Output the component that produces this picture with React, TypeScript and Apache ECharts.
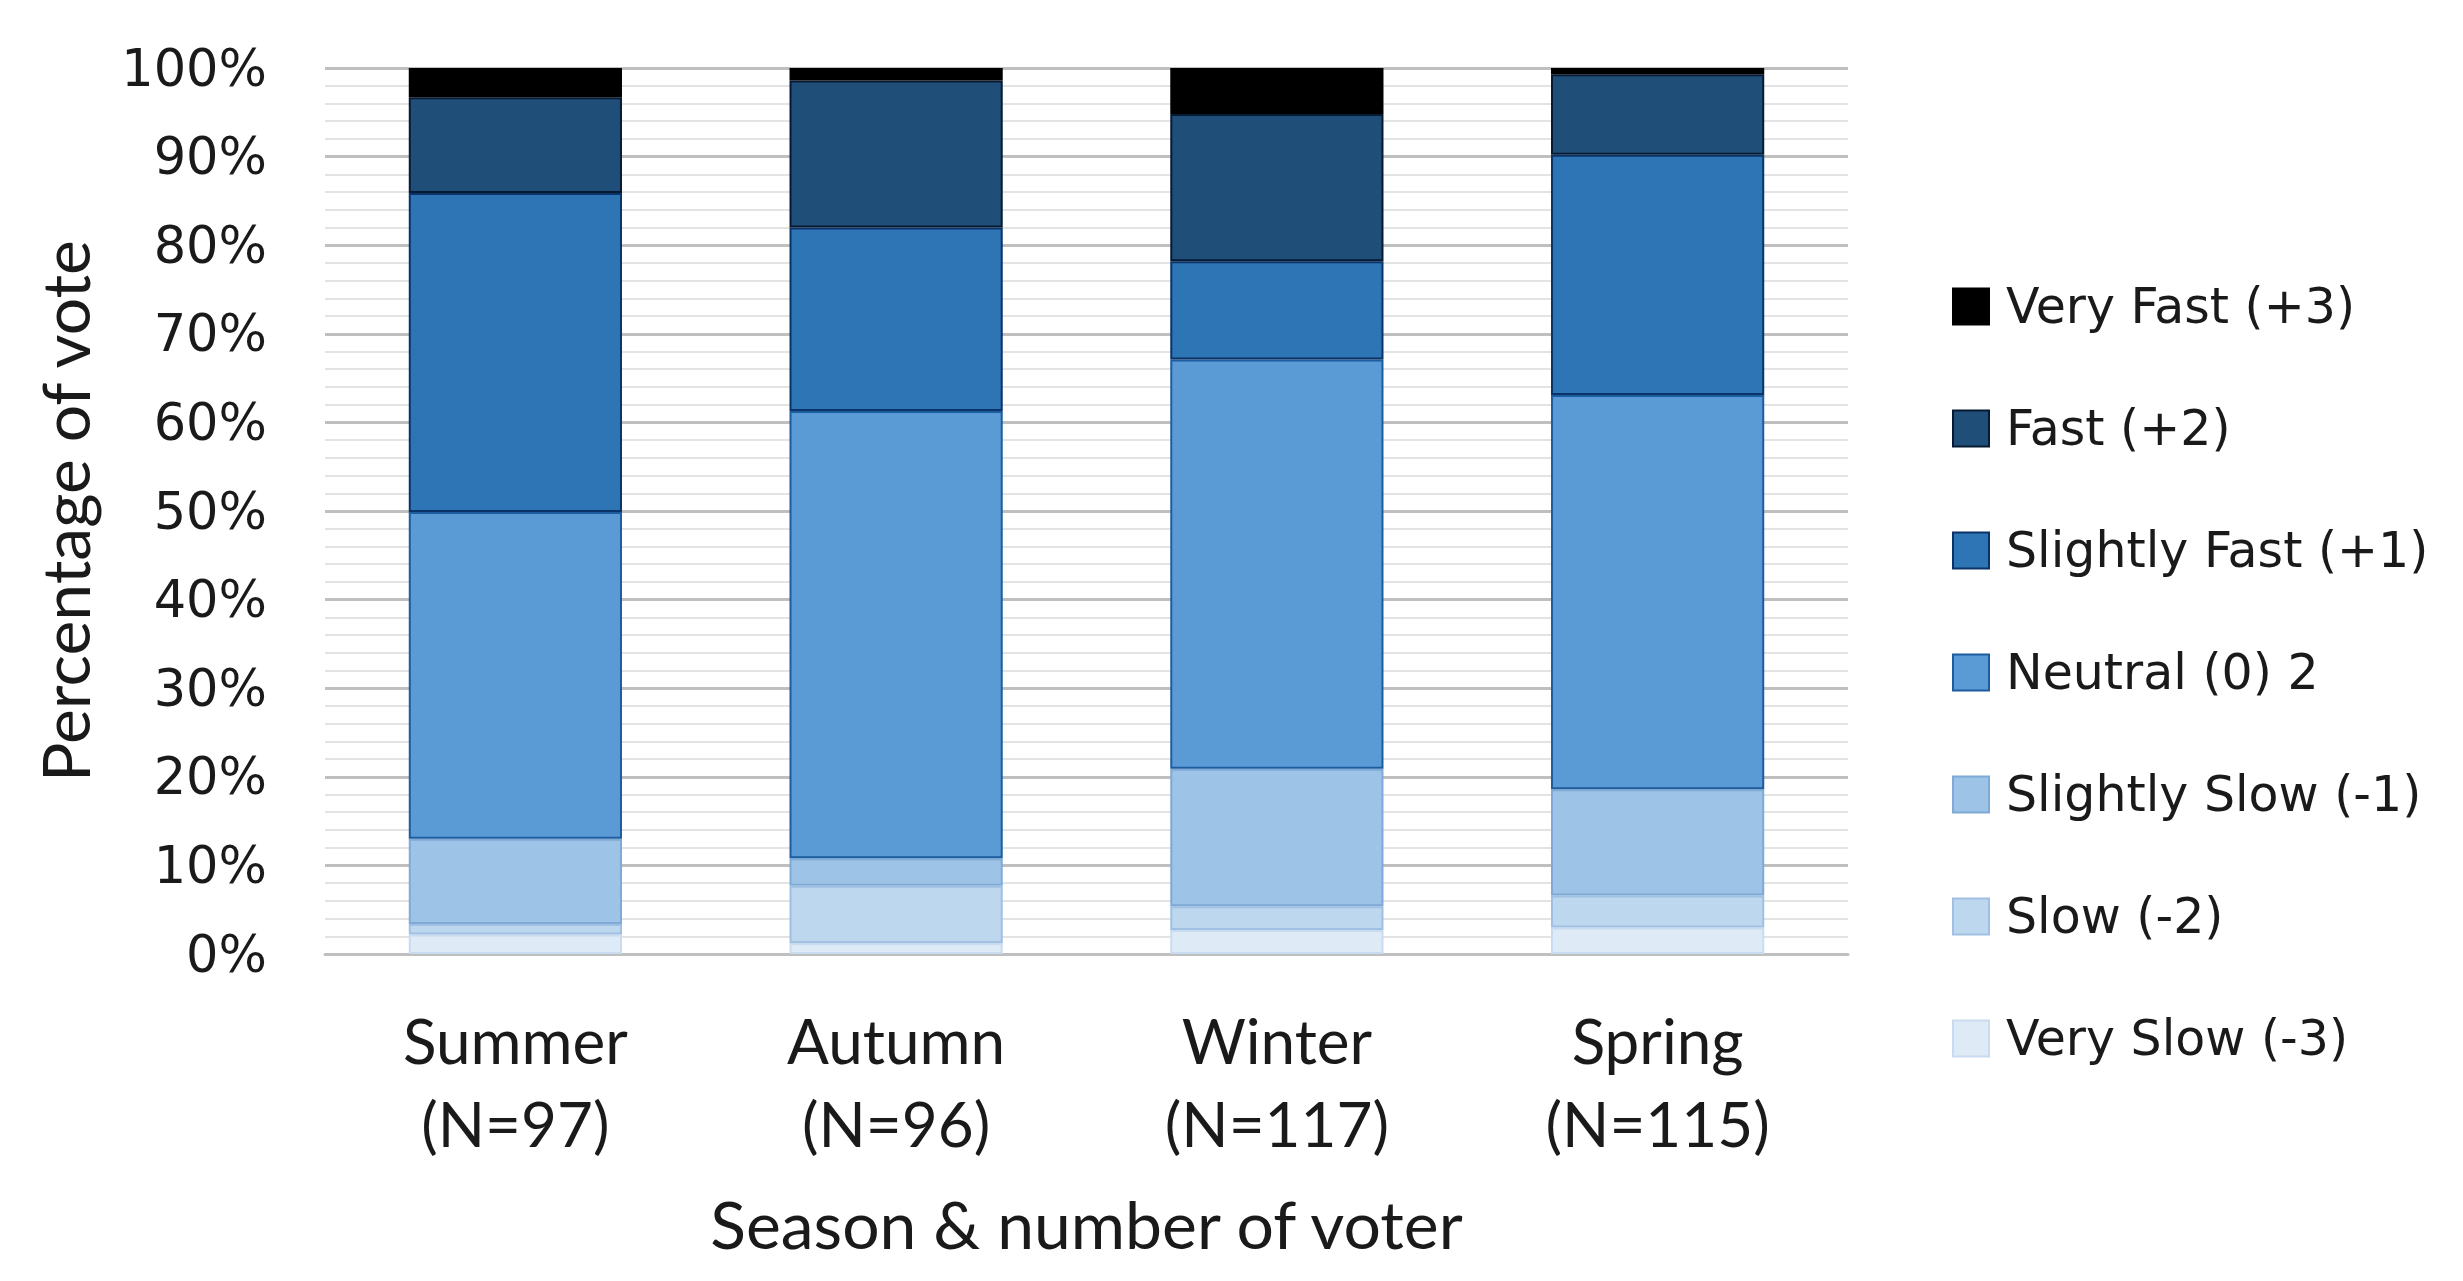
import React, { useEffect, useRef } from "react";
import * as echarts from "echarts";

const categories = ["Summer\n(N=97)", "Autumn\n(N=96)", "Winter\n(N=117)", "Spring\n(N=115)"];
const seriesNames = [
  "Very Slow (-3)",
  "Slow (-2)",
  "Slightly Slow (-1)",
  "Neutral (0) 2",
  "Slightly Fast (+1)",
  "Fast (+2)",
  "Very Fast (+3)",
];
const verySlow = [2.2, 1.2, 2.7, 3.0];
const slow = [1.2, 6.5, 2.7, 3.6];
const slightlySlow = [9.6, 3.1, 15.5, 12.0];
const neutral = [36.9, 50.5, 46.2, 44.5];
const slightlyFast = [36.0, 20.7, 11.1, 27.1];
const fast = [10.8, 16.6, 16.6, 9.1];
const veryFast = [3.3, 1.4, 5.2, 0.7];
const yTicks = [0, 10, 20, 30, 40, 50, 60, 70, 80, 90, 100];

const seriesData = [verySlow, slow, slightlySlow, neutral, slightlyFast, fast, veryFast];
const fills = ["#deebf7", "#bdd7ee", "#9dc3e6", "#5b9bd5", "#2e75b6", "#1f4e79", "#000000"];
const borders = ["#c9dcef", "#9fc0e2", "#7faad6", "#1d5c9e", "#0a3369", "#061a33", "#000000"];

const calibriLike = "Lato, 'Open Sans', sans-serif";
const wideFont = "'DejaVu Sans', Verdana, sans-serif";

export default function App() {
  const ref = useRef<HTMLDivElement>(null);
  useEffect(() => {
    if (!ref.current) return;
    const chart = echarts.init(ref.current, undefined, { renderer: "svg" });
    chart.setOption({
      animation: false,
      backgroundColor: "#ffffff",
      grid: { left: 325, right: 615, top: 68, bottom: 327, containLabel: false },
      legend: {
        orient: "vertical",
        left: 1947,
        top: 277,
        itemWidth: 36,
        itemHeight: 36,
        itemGap: 73,
        icon: "rect",
        data: [...seriesNames].reverse(),
        textStyle: {
          fontFamily: wideFont,
          fontSize: 49,
          color: "#1a1a1a",
          lineHeight: 48,
          padding: [0, 0, 0, 12],
        },
      },
      xAxis: {
        type: "category",
        data: categories,
        name: "Season & number of voter",
        nameLocation: "middle",
        nameGap: 236,
        nameTextStyle: { fontFamily: calibriLike, fontSize: 66, color: "#1a1a1a" },
        axisLine: { show: true, lineStyle: { color: "#bfbfbf", width: 3 } },
        axisTick: { show: false },
        axisLabel: {
          fontFamily: calibriLike,
          fontSize: 62,
          lineHeight: 83,
          color: "#1a1a1a",
          margin: 44,
        },
      },
      yAxis: {
        type: "value",
        min: 0,
        max: 100,
        interval: 10,
        name: "Percentage of vote",
        nameLocation: "middle",
        nameRotate: 90,
        nameGap: 228,
        nameTextStyle: { fontFamily: calibriLike, fontSize: 66, color: "#1a1a1a" },
        axisLine: { show: false },
        axisTick: { show: false },
        axisLabel: {
          fontFamily: wideFont,
          fontSize: 51,
          color: "#1a1a1a",
          margin: 58,
          formatter: (v: number) => (yTicks.includes(v) ? `${v}%` : ""),
        },
        splitLine: { show: true, lineStyle: { color: "#bfbfbf", width: 3 } },
        minorTick: { show: false, splitNumber: 5 },
        minorSplitLine: { show: true, lineStyle: { color: "#e3e3e3", width: 2 } },
      },
      series: seriesNames.map((name, i) => ({
        name,
        type: "bar",
        stack: "total",
        barWidth: "56%",
        data: seriesData[i],
        itemStyle: { color: fills[i], borderColor: borders[i], borderWidth: 2 },
        emphasis: { disabled: true },
      })),
    });
    return () => chart.dispose();
  }, []);
  return (
    <div
      ref={ref}
      style={{ position: "fixed", left: 0, top: 0, width: 2463, height: 1281, background: "#fff" }}
    />
  );
}
